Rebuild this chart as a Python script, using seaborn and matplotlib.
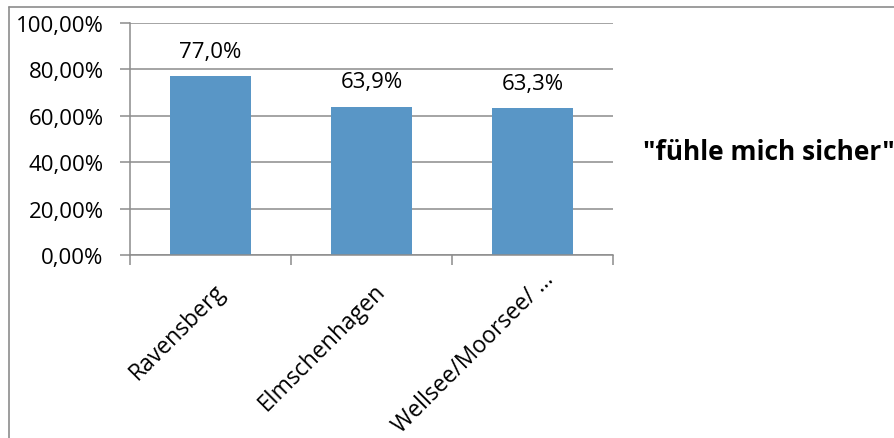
import matplotlib
matplotlib.use("Agg")
import matplotlib.pyplot as plt
import matplotlib.transforms as mtrans
import seaborn as sns
import pandas as pd
from matplotlib.lines import Line2D
from matplotlib.ticker import FixedLocator

categories = ["Ravensberg", "Elmschenhagen", "Wellsee/Moorsee/ …"]
values = [0.770, 0.639, 0.633]
value_labels = ["77,0%", "63,9%", "63,3%"]
y_ticks = [0.0, 0.2, 0.4, 0.6, 0.8, 1.0]
y_tick_labels = ["0,00%", "20,00%", "40,00%", "60,00%", "80,00%", "100,00%"]
series_name = '"fühle mich sicher"'

sns.set_theme(style="white")
plt.rcParams['font.family'] = ['Open Sans', 'DejaVu Sans']

W, H = 895, 439
fig = plt.figure(figsize=(W / 100, H / 100), dpi=100)
ax = fig.add_axes([130 / W, 1 - 256 / H, (613 - 130) / W, (256 - 24) / H])

df = pd.DataFrame({"cat": categories, "val": values})
sns.barplot(data=df, x="cat", y="val", color="#5996C6", width=0.5,
            saturation=1, ax=ax, edgecolor="none")

ax.set_xlim(-0.5, 2.5)
ax.set_ylim(0, 1.0)
ax.set_xlabel("")
ax.set_ylabel("")

grid_c = "#8C8C8C"
FS = 16
ax.set_yticks(y_ticks)
ax.set_yticklabels(y_tick_labels, fontsize=FS, color="#000000")
ax.yaxis.grid(True, color=grid_c, linewidth=1.1)
ax.set_axisbelow(True)

for s in ["top", "right"]:
    ax.spines[s].set_visible(False)
for s in ["left", "bottom"]:
    ax.spines[s].set_color(grid_c)
    ax.spines[s].set_linewidth(1.1)

ax.tick_params(axis="y", which="major", left=True, length=7, width=1.1,
               color=grid_c, pad=12, direction="out")

ax.set_xticks(range(len(categories)))
ax.set_xticklabels(categories, rotation=45, ha="right", va="baseline",
                   rotation_mode="anchor", fontsize=16.5, color="#000000")
ax.tick_params(axis="x", which="major", bottom=False, length=0, pad=26)
ax.xaxis.set_minor_locator(FixedLocator([-0.5, 0.5, 1.5, 2.5]))
ax.tick_params(axis="x", which="minor", bottom=True, length=7, width=1.1,
               color=grid_c, direction="out")
# extra pixel nudges (dx, dy) per category label
label_nudges = [(15, 0), (15, 0), (22, 12)]
for lbl, (dx, dy) in zip(ax.get_xticklabels(), label_nudges):
    shift = mtrans.ScaledTranslation(dx / 100, dy / 100, fig.dpi_scale_trans)
    lbl.set_transform(lbl.get_transform() + shift)

for i, (v, t) in enumerate(zip(values, value_labels)):
    ax.annotate(t, xy=(i, v), xytext=(0, 14), textcoords="offset points",
                ha="center", va="baseline", fontsize=FS, color="#000000")

fig.text(643 / W, 1 - 160 / H, series_name, fontsize=19, fontweight="bold",
         ha="left", va="baseline", color="#000000")

# outer chart border (top and left edges visible)
fig.add_artist(Line2D([9 / W, 1], [1 - 8 / H, 1 - 8 / H], transform=fig.transFigure,
                      color="#8C8C8C", linewidth=1.2))
fig.add_artist(Line2D([9 / W, 9 / W], [0, 1 - 8 / H], transform=fig.transFigure,
                      color="#8C8C8C", linewidth=1.2))

fig.savefig("out.png", dpi=100, facecolor="white")
